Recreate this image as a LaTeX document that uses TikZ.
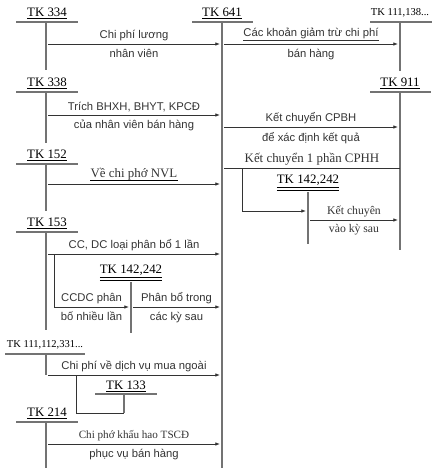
\documentclass[tikz,border=0pt]{standalone}
\usepackage{fontspec}
\setmainfont{Liberation Serif}
\setsansfont{Liberation Sans}
\usetikzlibrary{arrows.meta}

\tikzset{
  tk/.style={font=\fontsize{11}{12}\selectfont,inner sep=0pt},
  tksm/.style={font=\fontsize{9}{10}\selectfont,inner sep=0pt},
  sf/.style={font=\sffamily\fontsize{9.6}{10}\selectfont,inner sep=0pt},
  rm/.style={font=\fontsize{11}{12}\selectfont,inner sep=0pt},
  tline/.style={black!55,line width=0.9pt},
  flow/.style={black!80,line width=0.7pt,->},
}

\begin{document}
\begin{tikzpicture}[x=0.03cm,y=-0.03cm,>={Latex[length=4pt,width=3pt]}]
  \useasboundingbox (0,0) rectangle (440,474);
  \foreach \n/\y/\e in {334/13/70,338/83/143,152/155/211,153/223/330,214/413/468}{
    \node[tk] (tk\n) at (47,\y) {\underline{TK \n}};
    \draw[tline] (16,\y+9) -- (78,\y+9) (46,\y+9) -- (46,\e);
  }
  \node[tksm] (tk111a) at (45,345) {TK 111,112,331...};
  \draw[tline] (5,354) -- (85,354) (46,354) -- (46,375);
  \node[tk] (tk641) at (222,13) {\underline{TK 641}};
  \draw[tline] (192,22) -- (253,22) (222,22) -- (222,468);
  \node[tksm] (tk111b) at (400,13) {TK 111,138...};
  \draw[tline] (370,22) -- (432,22) (400,22) -- (400,71);
  \node[tk] (tk911) at (400,83) {\underline{TK 911}};
  \draw[tline] (370,92) -- (431,92) (400,92) -- (400,250);
  \node[tk] (tk142a) at (308,183) {\underline{\underline{TK 142,242}}};
  \draw[tline] (308,192) -- (308,244);
  \node[tk] (tk142b) at (131,273) {\underline{\underline{TK 142,242}}};
  \draw[tline] (131,282) -- (131,333);
  \node[tk] (tk133) at (126,386) {\underline{TK 133}};
  \draw[tline] (95,394) -- (157,394) (124,394) -- (124,413);

  \draw[flow] (48,44) -- node[sf,above=2pt] (l1a) {Chi phí lương} node[sf,below=4pt] (l1b) {nhân viên} (220,44);
  \draw[flow] (224,44) -- node[sf,above=2pt] (l2a) {\underline{Các khoản giảm trừ chi phí}} node[sf,below=4pt] (l2b) {bán hàng} (398,44);
  \draw[flow] (48,115) -- node[sf,above=2pt] (l3a) {Trích BHXH, BHYT, KPCĐ} node[sf,below=4pt] (l3b) {của nhân viên bán hàng} (220,115);
  \draw[flow] (224,127) -- node[sf,above=2pt] (l4a) {Kết chuyển CPBH} node[sf,below=4pt] (l4b) {để xác định kết quả} (398,127);
  \draw[flow] (48,184) -- node[rm,above=3pt] (l5a) {Về chi phớ NVL} (220,184);
  \draw[line width=1.3pt] (l5a.south west) -- (l5a.south east);
  \draw[tline,black!80,line width=0.7pt] (224,168) -- node[rm,above=2pt] (l6a) {Kết chuyển 1 phần CPHH} (400,168);
  \draw[flow] (242,168) |- (306,211);
  \draw[flow] (310,220) -- node[rm,font=\fontsize{10}{11}\selectfont,above=2pt] (l7a) {Kết chuyên} node[rm,font=\fontsize{10}{11}\selectfont,below=3pt] (l7b) {vào kỳ sau} (398,220);
  \draw[flow] (48,254) -- node[sf,above=2pt] (l8a) {CC, DC loại phân bổ 1 lần} (220,254);
  \draw[flow] (54,254) |- node[sf,pos=.75,above=2pt] (l9a) {CCDC phân} node[sf,pos=.75,below=4pt] (l9b) {bố nhiều lần} (129,307);
  \draw[flow] (133,307) -- node[sf,above=2pt] (l10a) {Phân bổ trong} node[sf,below=4pt] (l10b) {các kỳ sau} (220,307);
  \draw[flow] (48,375) -- node[sf,above=2pt] (l11a) {Chi phí về dịch vụ mua ngoài} (220,375);
  \draw[tline,black!80,line width=0.7pt] (76,375) |- (124,413);
  \draw[flow] (48,444) -- node[rm,font=\fontsize{9.5}{10}\selectfont,above=2pt] (l12a) {Chi phớ khấu hao TSCĐ} node[sf,below=4pt] (l12b) {phục vụ bán hàng} (220,444);
\end{tikzpicture}
\end{document}
